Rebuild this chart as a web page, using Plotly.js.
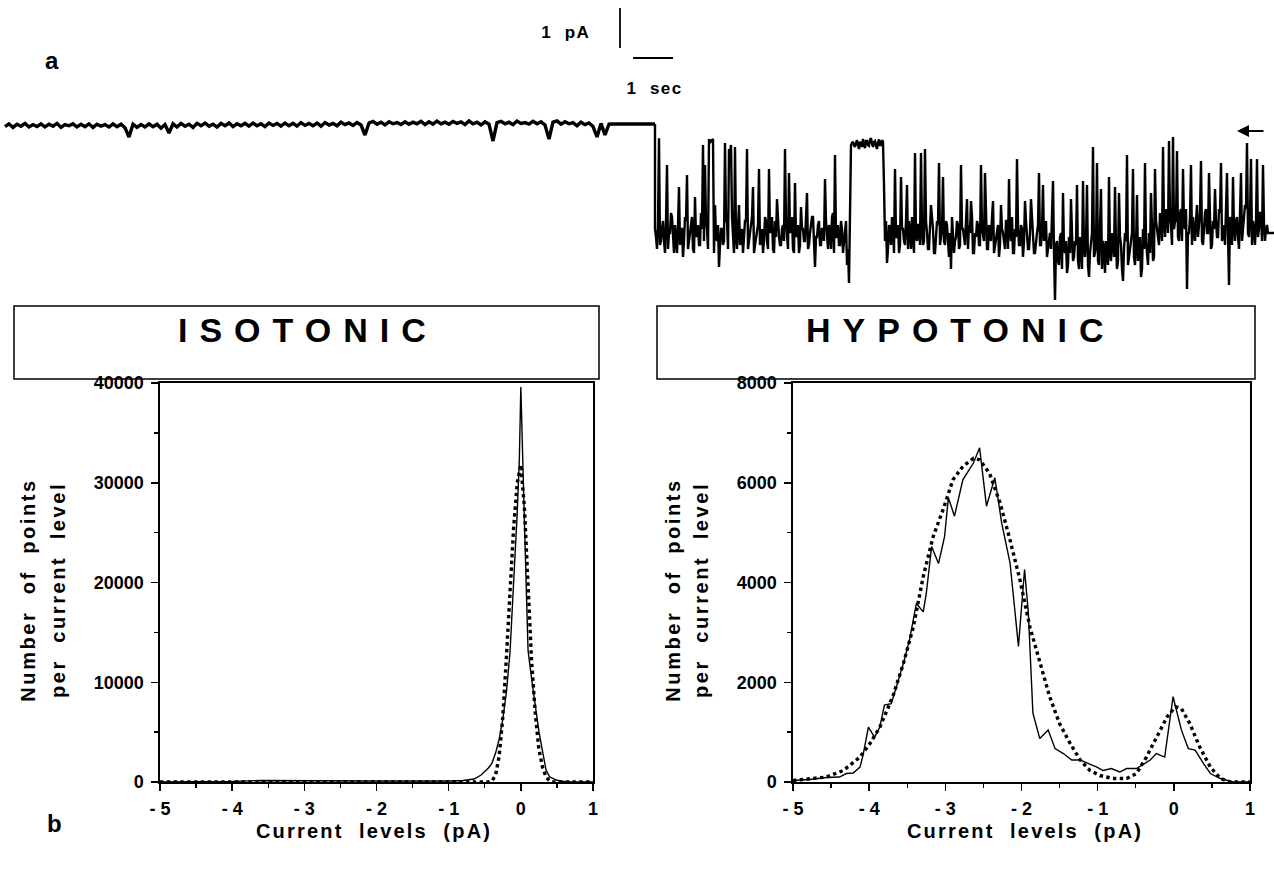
<!DOCTYPE html>
<html>
<head>
<meta charset="utf-8">
<script src="https://cdn.plot.ly/plotly-3.0.1.min.js"></script>
<style>
  html, body { margin: 0; padding: 0; background: #fff; }
  #fig { width: 1274px; height: 870px; }
</style>
</head>
<body>
<div id="fig"></div>
<script>
// ---- single-channel recording (pA), sampled at fixed intervals ----
// isotonic segment: 0.1 s per sample, starting at t = 0 s
const isoSampleInterval = 0.1;
const isoCurrent = [
  -0.04, 0.03,-0.06, 0.02,-0.03, 0.04,-0.05, 0.01,-0.04, 0.03,
  -0.05, 0.02,-0.03, 0.04,-0.06, 0.01,-0.02, 0.03,-0.05, 0.02,
  -0.04, 0.03,-0.06, 0.02,-0.03, 0.01,-0.05, 0.03,-0.04, 0.02,
  -0.07,-0.30, 0.02,-0.06, 0.01,-0.05, 0.03,-0.04, 0.02,-0.08,
   0.01,-0.20, 0.03,-0.05, 0.04,-0.03, 0.02,-0.06, 0.04,-0.02,
   0.05,-0.03, 0.02,-0.05, 0.04,-0.02, 0.05,-0.04, 0.03,-0.02,
   0.04,-0.03, 0.05,-0.02, 0.03,-0.04, 0.05,-0.01, 0.04,-0.03,
   0.05,-0.02, 0.04,-0.03, 0.06,-0.01, 0.04,-0.02, 0.05,-0.03,
   0.06, 0.00, 0.04,-0.02, 0.07, 0.01, 0.05,-0.01, 0.06, 0.00,
  -0.25, 0.05, 0.09, 0.02, 0.07, 0.00, 0.08, 0.03, 0.06, 0.01,
   0.08, 0.02, 0.07, 0.03, 0.09, 0.01, 0.08, 0.02, 0.10, 0.03,
   0.07, 0.02, 0.09, 0.04, 0.08, 0.01, 0.10, 0.03, 0.07, 0.00,
   0.08, 0.02,-0.40, 0.06, 0.09, 0.03, 0.07, 0.01, 0.10, 0.04,
   0.06, 0.02, 0.09, 0.03, 0.08, 0.00,-0.35, 0.07, 0.10, 0.02,
   0.08, 0.03, 0.06,-0.02, 0.07, 0.01, 0.05,-0.04,-0.30, 0.04,
  -0.25, 0.02
];
// solution exchange: flat segment between the two recordings
const exchangeTimes = [15.175, 16.25];
const exchangeCurrent = [0.025, 0.025];

// hypotonic segment: 0.025 s per sample, starting at t = 16.25 s
const hypoStart = 16.25;
const hypoSampleInterval = 0.025;
const hypoCurrent = [
  -2.6,-2.8,-3.1,-2.5,-0.33,-3.0,-2.9,-2.6,-2.4,-2.9,-3.2,-2.4,-1.0,-3.1,-2.7,-2.7,-2.2,-2.3,-3.0,-3.2,
  -2.5,-2.8,-3.2,-2.5,-1.55,-3.0,-2.6,-2.6,-3.3,-2.9,-2.3,-2.4,-1.25,-3.1,-2.9,-2.7,-2.4,-2.3,-3.1,-3.2,
  -1.8,-2.8,-2.7,-2.5,-3.0,-3.0,-2.2,-2.6,-0.5,-2.9,-1.0,-2.4,-2.6,-3.1,-0.35,-0.45,-0.4,-0.38,-0.35,-3.2,
  -2.0,-2.8,-2.9,-2.5,-3.55,-3.0,-2.6,-2.6,-3.0,-2.9,-0.45,-2.4,-2.4,-3.1,-0.6,-0.7,-0.5,-2.3,-2.8,-3.2,
  -0.55,-2.8,-3.1,-2.5,-2.0,-3.0,-2.7,-2.6,-3.2,-2.9,-2.4,-2.4,-0.6,-3.1,-2.9,-2.7,-2.5,-2.3,-1.55,-3.2,
  -3.0,-2.8,-2.6,-2.5,-1.1,-3.0,-2.8,-2.6,-3.2,-2.9,-2.3,-2.4,-2.9,-3.1,-1.1,-2.7,-2.6,-2.3,-3.1,-3.2,
  -2.4,-2.8,-1.85,-2.5,-2.8,-3.0,-3.0,-2.6,-2.5,-2.9,-0.6,-2.4,-2.9,-3.1,-1.2,-2.7,-2.6,-2.3,-3.1,-3.2,
  -1.45,-2.8,-2.7,-2.5,-3.2,-3.0,-2.05,-2.6,-2.6,-2.9,-2.9,-2.4,-1.7,-3.1,-3.0,-2.7,-2.5,-2.3,-2.3,-3.2,
  -3.55,-2.8,-2.8,-2.5,-2.4,-3.0,-3.0,-2.6,-2.6,-2.9,-1.35,-2.4,-2.9,-3.1,-2.5,-2.7,-3.1,-2.3,-2.2,-3.2,
  -0.75,-2.8,-2.8,-2.5,-3.0,-3.0,-2.4,-2.6,-3.2,-2.9,-2.7,-2.4,-3.5,-3.1,-3.95,-1.2,-0.5,-0.45,-0.42,-0.5,
  -0.55,-0.45,-0.38,-0.5,-0.6,-0.42,-0.45,-0.55,-0.35,-0.48,-0.58,-0.4,-0.4,-0.5,-0.52,-0.36,-0.33,-0.47,-0.55,-0.42,
  -0.4,-0.52,-0.6,-0.44,-0.36,-0.5,-0.5,-0.38,-0.42,-1.5,-2.9,-2.4,-3.45,-3.1,-2.5,-2.7,-3.0,-2.3,-2.6,-3.2,
  -1.1,-2.8,-2.8,-2.5,-3.2,-3.0,-1.3,-2.6,-2.6,-2.9,-3.0,-2.4,-1.5,-3.1,-2.4,-2.7,-3.1,-2.3,-2.7,-3.2,
  -0.7,-2.8,-2.9,-2.5,-2.5,-3.0,-0.7,-2.6,-3.0,-2.9,-0.6,-2.4,-2.7,-3.1,-3.1,-2.7,-2.0,-2.3,-2.6,-3.2,
  -3.2,-2.8,-2.4,-2.5,-0.95,-3.0,-2.8,-2.6,-1.3,-2.9,-3.0,-2.4,-2.5,-3.1,-3.3,-2.7,-3.6,-2.3,-2.7,-3.2,
  -2.9,-2.8,-2.4,-2.5,-3.1,-3.0,-1.0,-2.6,-2.6,-2.9,-3.0,-2.4,-1.85,-3.1,-2.5,-2.7,-1.9,-2.3,-3.2,-3.2,
  -2.7,-2.8,-2.4,-2.5,-3.0,-3.0,-1.0,-2.6,-2.8,-2.9,-1.2,-2.4,-3.1,-3.1,-2.5,-2.7,-2.9,-2.3,-1.9,-3.2,
  -3.0,-2.8,-2.6,-2.5,-3.3,-3.0,-2.0,-2.6,-2.7,-2.9,-3.1,-2.4,-2.4,-3.1,-1.35,-2.7,-2.9,-2.3,-3.2,-3.2,
  -2.6,-2.8,-0.85,-2.5,-3.0,-3.0,-2.5,-2.6,-3.3,-2.9,-1.9,-2.4,-2.8,-3.1,-3.1,-2.7,-1.85,-2.3,-2.6,-3.2,
  -3.2,-2.8,-2.7,-2.5,-1.2,-3.0,-3.0,-2.6,-1.5,-2.9,-2.6,-2.4,-3.3,-3.1,-2.8,-2.7,-3.1,-2.3,-1.4,-3.2,
  -4.4,-3.0,-2.9,-3.4,-3.5,-2.8,-2.7,-3.6,-1.7,-3.1,-3.2,-2.9,-3.7,-3.5,-2.8,-3.2,-1.85,-2.7,-3.4,-3.3,
  -2.9,-3.0,-1.5,-3.4,-3.6,-2.8,-3.0,-3.6,-1.4,-3.1,-3.3,-2.9,-1.5,-3.5,-3.8,-3.2,-2.8,-2.7,-0.55,-3.3,
  -3.2,-3.0,-0.95,-3.4,-3.5,-2.8,-1.6,-3.6,-2.9,-3.1,-3.7,-2.9,-3.1,-3.5,-1.3,-3.2,-3.4,-2.7,-2.8,-3.3,
  -1.55,-3.0,-3.6,-3.4,-1.7,-2.8,-3.0,-3.6,-3.9,-3.1,-2.7,-2.9,-0.75,-3.5,-3.3,-3.2,-2.9,-2.7,-1.1,-3.3,
  -3.5,-3.0,-1.75,-3.4,-3.0,-2.8,-3.8,-3.6,-2.6,-3.1,-0.95,-2.9,-3.2,-3.5,-2.7,-3.2,-1.7,-2.7,-3.4,-3.3,
  -1.1,-2.4,-2.6,-2.8,-3.0,-2.2,-2.3,-2.9,-0.55,-2.5,-2.8,-2.1,-2.2,-2.7,-0.4,-2.3,-2.5,-3.0,-0.3,-2.6,
  -2.4,-2.4,-0.65,-2.8,-2.9,-2.2,-2.1,-2.9,-1.1,-2.5,-2.6,-2.1,-4.1,-2.7,-2.7,-2.3,-1.0,-3.0,-2.3,-2.6,
  -2.9,-2.4,-2.0,-2.8,-2.5,-2.2,-0.9,-2.9,-3.0,-2.5,-2.2,-2.1,-2.7,-2.7,-1.2,-2.3,-3.1,-3.0,-2.4,-2.6,
  -1.6,-2.4,-2.8,-2.8,-2.1,-2.2,-0.95,-2.9,-2.6,-2.5,-3.0,-2.1,-1.2,-2.7,-4.0,-2.3,-2.5,-3.0,-1.3,-2.6,
  -2.9,-2.4,-2.3,-2.8,-3.1,-2.2,-1.2,-2.9,-2.6,-2.5,-2.0,-2.1,-0.45,-2.7,-2.8,-2.3,-0.85,-3.0,-2.4,-2.6,
  -3.0,-2.4,-0.85,-2.8,-2.6,-2.2,-2.2,-2.9,-1.0,-2.5,-2.9,-2.6,-2.5,-2.7,-2.7,-2.7,-2.7,-2.7,-2.7,-2.7
];

// scale bars for the recording
const scaleBarCurrent = 1;     // pA
const scaleBarTime = 1;        // s
const scaleBarAnchorTime = 15.375;
const scaleBarAnchorCurrent = 1.925;
const timeBarStart = 15.7;
const timeBarCurrent = 1.675;

// ---- amplitude histograms ----
// isotonic: measured counts and Gaussian fit
const isoLevels = [-5,-4.5,-4.0,-3.6,-3.0,-2.0,-1.0,-0.8,-0.65,-0.55,
  -0.45,-0.4,-0.35,-0.3,-0.25,-0.2,-0.15,-0.1,-0.05,-0.02,
  0,0.05,0.1,0.15,0.2,0.25,0.3,0.35,0.4,0.5,0.6,0.7,1.0];
const isoCounts = [0,0,60,150,120,100,100,150,300,700,
  1400,1900,2900,4300,6300,9000,13000,19500,27000,32500,
  39600,26000,13200,10300,7700,5100,3100,1200,500,170,50,0,0];
const isoFitLevels = [-5,-1.0,-0.45,-0.4,-0.35,-0.3,-0.25,-0.2,-0.15,-0.1,-0.05,
  0,0.05,0.1,0.15,0.2,0.25,0.3,0.35,0.4,0.45,1.0];
const isoFitCounts = [0,0,0,100,700,2600,6500,12500,19800,25500,30000,
  31800,27500,20000,12000,6900,3300,1500,500,100,0,0];

// hypotonic: measured counts and two-Gaussian fit
const hypoLevels = [-5.0,-4.78,-4.56,-4.39,-4.30,-4.21,-4.12,-4.08,-4.01,-3.93,
  -3.86,-3.80,-3.71,-3.64,-3.55,-3.47,-3.38,-3.29,-3.25,-3.18,
  -3.09,-3.01,-2.96,-2.88,-2.77,-2.63,-2.55,-2.46,-2.35,-2.26,
  -2.15,-2.04,-1.96,-1.91,-1.85,-1.76,-1.65,-1.56,-1.45,-1.34,
  -1.23,-1.12,-1.01,-0.93,-0.82,-0.71,-0.62,-0.49,-0.38,-0.31,
  -0.23,-0.12,-0.01,0.10,0.19,0.28,0.39,0.48,0.61,0.69,
  0.78,1.0];
const hypoCounts = [30,50,90,100,170,180,300,540,1100,900,
  1100,1540,1570,1910,2380,2850,3580,3410,3780,4720,
  4380,4920,5700,5330,6060,6400,6700,5530,6100,5190,
  4390,2720,4260,3390,1380,870,1040,670,570,440,
  440,370,300,230,270,200,270,270,370,440,
  570,500,1710,1040,670,640,370,170,70,30,
  0,0];
const hypoFitLevels = [-5.0,-4.74,-4.56,-4.34,-4.12,-3.99,-3.86,-3.69,-3.55,-3.42,
  -3.29,-3.16,-3.03,-2.90,-2.77,-2.63,-2.55,-2.42,-2.28,-2.15,
  -2.02,-1.89,-1.76,-1.63,-1.50,-1.36,-1.23,-1.10,-0.97,-0.80,
  -0.62,-0.49,-0.36,-0.23,-0.09,0.02,0.10,0.21,0.34,0.48,
  0.61,0.74,1.0];
const hypoFitCounts = [30,70,100,230,500,770,1100,1710,2380,3110,
  4120,4920,5460,6060,6330,6490,6460,6190,5590,4850,
  4050,3110,2380,1710,1170,770,440,230,130,70,
  70,170,500,900,1300,1510,1470,1170,700,300,
  70,0,0];

// x tick labels shared by both histograms
const levelTicks = [-5,-4,-3,-2,-1,0,1];
const levelTickText = ['- 5','- 4','- 3','- 2','- 1','0','1'];

// ---- build the recording trace ----
const isoTimes = isoCurrent.map((_, i) => +(i * isoSampleInterval).toFixed(3));
const hypoTimes = hypoCurrent.map((_, i) => +(hypoStart + i * hypoSampleInterval).toFixed(4));

const W = 1274, H = 870;
const px = v => v / W;
const py = v => 1 - v / H;

const FONT = 'Liberation Sans, Arial, Helvetica, sans-serif';
const tickFont = {family: FONT, size: 18, color: '#000', weight: 700};

const data = [
  // isotonic recording and the exchange step
  {x: isoTimes.concat(exchangeTimes), y: isoCurrent.concat(exchangeCurrent),
   xaxis: 'x3', yaxis: 'y3', type: 'scatter', mode: 'lines',
   line: {color: '#000', width: 3.4}, hoverinfo: 'skip'},
  // hypotonic recording, joined to the end of the exchange step
  {x: [exchangeTimes[1]].concat(hypoTimes), y: [exchangeCurrent[1]].concat(hypoCurrent),
   xaxis: 'x3', yaxis: 'y3', type: 'scatter', mode: 'lines',
   line: {color: '#000', width: 2.4}, hoverinfo: 'skip'},
  {x: isoLevels, y: isoCounts, xaxis: 'x', yaxis: 'y', type: 'scatter', mode: 'lines',
   line: {color: '#000', width: 1.4}, hoverinfo: 'skip'},
  {x: isoFitLevels, y: isoFitCounts, xaxis: 'x', yaxis: 'y', type: 'scatter', mode: 'lines',
   line: {color: '#000', width: 3.4, dash: 'dot'}, hoverinfo: 'skip'},
  {x: hypoLevels, y: hypoCounts, xaxis: 'x2', yaxis: 'y2', type: 'scatter', mode: 'lines',
   line: {color: '#000', width: 1.4}, hoverinfo: 'skip'},
  {x: hypoFitLevels, y: hypoFitCounts, xaxis: 'x2', yaxis: 'y2', type: 'scatter', mode: 'lines',
   line: {color: '#000', width: 3.4, dash: 'dot'}, hoverinfo: 'skip'}
];

const histY = [py(782), py(383)];
const levelAxis = {
  range: [-5, 1], tickmode: 'array', tickvals: levelTicks, ticktext: levelTickText,
  ticks: 'outside', ticklen: 7, tickwidth: 1.5, tickcolor: '#000',
  minor: {tick0: -5, dtick: 0.5, ticks: 'outside', ticklen: 4, tickwidth: 1.3, tickcolor: '#000'},
  showline: true, mirror: true, linecolor: '#000', linewidth: 1.6,
  showgrid: false, zeroline: false, tickfont: tickFont, ticklabelstandoff: 3, fixedrange: true
};
const countAxis = {
  tickmode: 'linear', tick0: 0, tickformat: 'd',
  ticks: 'outside', ticklen: 7, tickwidth: 1.5, tickcolor: '#000',
  showline: true, mirror: true, linecolor: '#000', linewidth: 1.6,
  showgrid: false, zeroline: false, tickfont: tickFont, ticklabelstandoff: 4, fixedrange: true
};

const annotations = [
  {text: 'a', x: px(52), y: py(60), size: 24},
  {text: 'b', x: px(54), y: py(823), size: 24},
  {text: '1  pA', x: px(589), y: py(32), size: 17, xanchor: 'right', ls: 1.5},
  {text: '1  sec', x: px(654), y: py(88), size: 17, ls: 1.5},
  {text: 'ISOTONIC', x: px(302), y: py(330), size: 34, ls: 12},
  {text: 'HYPOTONIC', x: px(955), y: py(330), size: 34, ls: 12},
  {text: 'Number  of  points', x: px(28), y: py(589), size: 20, angle: -90, ls: 2.6},
  {text: 'per  current  level', x: px(58), y: py(589), size: 20, angle: -90, ls: 2.6},
  {text: 'Number  of  points', x: px(673), y: py(589), size: 20, angle: -90, ls: 2.6},
  {text: 'per  current  level', x: px(701), y: py(589), size: 20, angle: -90, ls: 2.6},
  {text: 'Current  levels  (pA)', x: px(373), y: py(831), size: 20, ls: 2.2},
  {text: 'Current  levels  (pA)', x: px(1024), y: py(831), size: 20, ls: 2.2}
];
const letterSpacing = annotations.map(a => a.ls || 0);

const layoutAnnotations = annotations.map(a => {
  const ls = a.ls || 0;
  const rotated = a.angle === -90;
  return {
    text: a.text, xref: 'paper', yref: 'paper', x: a.x, y: a.y,
    xanchor: a.xanchor || 'center', yanchor: 'middle', showarrow: false,
    textangle: a.angle || 0,
    xshift: rotated || a.xanchor ? 0 : ls / 2,
    yshift: rotated ? -ls / 2 : 0,
    font: {family: FONT, size: a.size, color: '#000', weight: 700}
  };
});
// arrow marking the closed level of the recording
layoutAnnotations.push({
  xref: 'paper', yref: 'paper', x: px(1237), y: py(131), ax: 28, ay: 0,
  text: '', showarrow: true, arrowhead: 2, arrowsize: 1.2, arrowwidth: 2, arrowcolor: '#000'
});

const shapes = [
  // condition boxes
  {type: 'rect', xref: 'paper', yref: 'paper', x0: px(14), x1: px(599), y0: py(379), y1: py(306),
   line: {color: '#000', width: 1.5}},
  {type: 'rect', xref: 'paper', yref: 'paper', x0: px(657), x1: px(1255), y0: py(379), y1: py(306),
   line: {color: '#000', width: 1.5}},
  // current scale bar
  {type: 'line', xref: 'x3', yref: 'y3',
   x0: scaleBarAnchorTime, x1: scaleBarAnchorTime,
   y0: scaleBarAnchorCurrent, y1: scaleBarAnchorCurrent + scaleBarCurrent,
   line: {color: '#000', width: 1.8}},
  // time scale bar
  {type: 'line', xref: 'x3', yref: 'y3',
   x0: timeBarStart, x1: timeBarStart + scaleBarTime,
   y0: timeBarCurrent, y1: timeBarCurrent,
   line: {color: '#000', width: 1.8}}
];

const layout = {
  width: W, height: H, margin: {l: 0, r: 0, t: 0, b: 0},
  paper_bgcolor: '#fff', plot_bgcolor: 'rgba(0,0,0,0)', showlegend: false,
  font: {family: FONT, color: '#000'},
  xaxis: Object.assign({}, levelAxis, {domain: [px(160), px(593)], anchor: 'y'}),
  yaxis: Object.assign({}, countAxis, {domain: histY, anchor: 'x', range: [0, 40000], dtick: 10000,
    minor: {dtick: 5000, ticks: 'outside', ticklen: 4, tickwidth: 1.3, tickcolor: '#000'}}),
  xaxis2: Object.assign({}, levelAxis, {domain: [px(793), px(1250)], anchor: 'y2'}),
  yaxis2: Object.assign({}, countAxis, {domain: histY, anchor: 'x2', range: [0, 8000], dtick: 2000,
    minor: {dtick: 1000, ticks: 'outside', ticklen: 4, tickwidth: 1.3, tickcolor: '#000'}}),
  xaxis3: {domain: [0, 1], anchor: 'y3', range: [-0.125, 31.725], visible: false, fixedrange: true},
  yaxis3: {domain: [py(300), 1], anchor: 'x3', range: [-4.375, 3.125], visible: false, fixedrange: true},
  annotations: layoutAnnotations,
  shapes: shapes
};

const gd = document.getElementById('fig');
Plotly.newPlot(gd, data, layout, {displayModeBar: false, staticPlot: true}).then(() => {
  // widen the letter spacing of the labels
  gd.querySelectorAll('.annotation').forEach(g => {
    const idx = +g.getAttribute('data-index');
    const ls = letterSpacing[idx];
    const t = g.querySelector('text.annotation-text');
    if (ls && t) t.style.letterSpacing = ls + 'px';
  });
});
</script>
</body>
</html>
